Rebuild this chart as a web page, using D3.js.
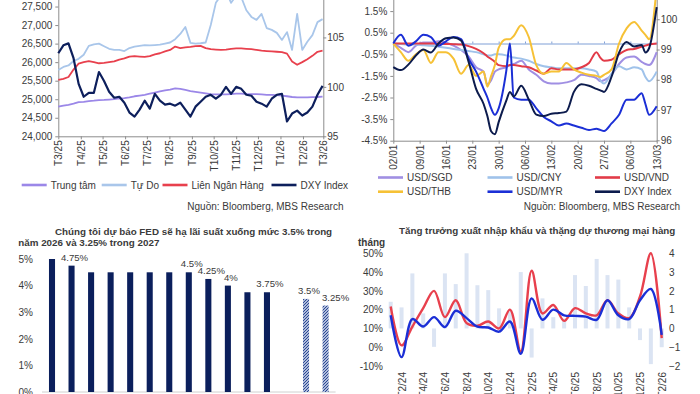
<!DOCTYPE html>
<html>
<head>
<meta charset="utf-8">
<script src="https://cdn.jsdelivr.net/npm/d3@7"></script>
<style>
  body { margin: 0; background: #fff; }
  svg { display: block; font-family: "Liberation Sans", Arial, sans-serif; }
</style>
</head>
<body>
<svg id="chart" width="700" height="394"></svg>
<script>
// ---------------- Data ----------------
// Chart 1: USD/VND rates (weekly, T3/25 -> T3/26) and DXY
const fxStart = new Date(2025, 2, 1);
const trungTam = [
  24800, 24830, 24850, 24880, 24920, 24930, 24950, 24960, 24975, 24980,
  24990, 25000, 25020, 25030, 25050, 25080, 25100, 25120, 25150, 25180,
  25210, 25240, 25260, 25290, 25280, 25250, 25220, 25200, 25180, 25160,
  25140, 25130, 25130, 25130, 25140, 25150, 25150, 25140, 25140, 25140,
  25130, 25120, 25120, 25110, 25100, 25080, 25060, 25050, 25050, 25050,
  25055, 25060, 25070
];
const tuDo = [
  25790, 25870, 25910, 26030, 26090, 26200, 26440, 26480, 26500, 26430,
  26360, 26330, 26330, 26300, 26380, 26420, 26440, 26460, 26450, 26460,
  26470, 26500, 26530, 26620, 26760, 26950, 26520, 26500, 26510, 26530,
  27000, 27600, 27800, 27900, 27600, 27800, 27750, 27400, 27220, 27140,
  27300, 26920, 26870, 26790, 26600, 26810, 26330, 27300, 26330, 26550,
  26730, 27080, 27160
];
const lienNganHang = [
  25520, 25550, 25600, 25800, 25960, 26000, 26030, 26000, 25970, 25980,
  26000, 26020, 26070, 26100, 26150, 26160, 26150, 26140, 26160, 26210,
  26240, 26290, 26330, 26420, 26380, 26400, 26410, 26430, 26440, 26380,
  26350, 26340, 26330, 26340, 26360, 26370, 26370, 26360, 26350, 26330,
  26310, 26300, 26290, 26280, 26270, 26230, 26020, 25930, 26000, 26080,
  26170, 26280, 26310
];
const dxyYear = [
  103.4, 104.2, 104.4, 102.9, 100.3, 99.0, 99.4, 99.4, 101.5, 100.6,
  99.5, 98.9, 99.0, 98.4, 97.4, 97.0, 97.7, 98.6, 97.8, 99.3,
  98.6, 98.2, 98.3, 98.1, 98.4, 97.7, 97.0, 98.0, 98.5, 99.0,
  99.2, 98.8, 99.2, 100.0, 99.3, 100.0, 99.8, 99.2, 99.1, 98.5,
  98.3, 98.0, 98.8, 99.2, 99.3, 96.5, 97.3, 97.6, 97.1, 97.4,
  98.0, 99.2, 100.1
];

// Chart 2: YTD change vs USD (%) and DXY, days counted from 02/01/2026
const ytdStart = new Date(2026, 0, 2);
const ytdDays = [0, 2, 4, 6, 8, 10, 12, 14, 16, 18, 20, 22, 24, 25, 26, 27, 28, 30, 31, 32,
  34, 36, 38, 40, 42, 44, 46, 48, 50, 52, 54, 55, 56, 58, 60, 62, 64, 66, 67, 68, 70];
const usdSgd = [
  0, -0.2, -0.4, -0.1, 0.05, 0.05, 0.1, 0.05, -0.1, -0.3,
  -0.6, -1.1, -1.3, -1.9, -1.7, -1.3, -1.2, -1.1, -1.0, -0.95,
  -0.8, -1.2, -1.45, -1.75, -1.85, -1.85, -1.8, -1.7, -1.45, -1.5,
  -1.6, -1.75, -1.7, -1.45, -0.95, -0.65, -0.6, -0.85, -0.95, -1.0,
  -0.4
];
const usdCny = [
  0, -0.02, -0.05, -0.05, -0.08, -0.1, -0.15, -0.2, -0.25, -0.3,
  -0.35, -0.4, -0.5, -0.55, -0.55, -0.5, -0.5, -0.55, -0.6, -0.65,
  -0.7, -0.8, -0.95, -1.05, -1.1, -1.15, -1.15, -1.15, -1.15, -1.2,
  -1.3, -1.7, -1.85, -1.4, -1.05, -1.2, -1.1, -1.2, -1.55, -1.75,
  -1.3
];
const usdVnd = [
  0, 0, 0, 0, 0, 0, 0, -0.02, -0.03, -0.05,
  -0.12, -0.25, -0.45, -0.6, -0.72, -0.85, -1.0, -1.05, -1.0, -1.0,
  -1.05, -1.1, -1.25, -1.4, -1.15, -1.2, -1.2, -1.2, -1.1, -0.9,
  -0.4, -0.65, -0.8, -0.75, -0.5, -0.3, -0.25, -0.15, -0.1, -0.05,
  0
];
const usdThb = [
  0, -0.4, -0.8, -0.5, -0.3, -0.9, -0.4, -0.4, -0.7, -1.4,
  -1.0, -1.5, -1.3, -2.0, -1.5, -1.0, -0.2, 0.2, 0.2, 0.35,
  0.85, 0.3, -1.0, -1.4, -1.3, -1.3, -0.9, -1.2, -1.35, -1.45,
  -1.5, -1.55, -1.45, -1.2, 0.0, 0.7, 1.0, 0.6, 0.4, 0.2,
  2.6
];
const usdMyr = [
  0, 0.4, -0.1, 0.1, 0.4, 0.3, -0.1, 0.1, 0.3, 0.2,
  -0.7, -1.3, -2.1, -2.5, -3.0, -3.3, -3.0, -1.3, 0.0, -2.5,
  -2.6, -2.6, -3.0, -3.4, -3.6, -3.8, -3.7, -3.8, -3.9, -4.0,
  -3.95, -4.0, -4.05, -3.7, -3.3, -2.6, -2.6, -2.3, -2.8, -3.3,
  -2.9
];
const dxyYtd = [
  98.42, 98.32, 98.5, 98.8, 99.0, 98.9, 99.2, 99.37, 99.4, 99.3,
  98.6, 97.7, 97.2, 96.8, 96.3, 96.2, 96.6, 97.3, 97.6, 97.45,
  97.8, 97.35, 96.85, 96.8, 96.88, 96.9, 96.95, 97.6, 97.85, 97.8,
  97.7, 97.65, 97.6, 98.1, 98.9, 99.25, 99.1, 99.15, 98.9, 99.05,
  100.4
];

// Chart 3: FED upper bound path and forecast
const fedMeetings = ['T9/24', 'T11/24', 'T12/24', 'T1/25', 'T3/25', 'T5/25', 'T6/25', 'T7/25',
  'T9/25', 'T10/25', 'T12/25', 'T1/26', '', '2026F', '2027F'];
const fedRates = [5, 4.75, 4.5, 4.5, 4.5, 4.5, 4.5, 4.5, 4.25, 4, 3.75, 3.75, null, 3.5, 3.25];
const fedLabels = ['', '4.75%', '', '', '', '', '', '4.5%', '4.25%', '4%', '', '3.75%', '', '3.5%', '3.25%'];

// Chart 4: export / import growth (% yoy) and trade balance (bn USD)
const tradeMonths = ['T1/24', 'T2/24', 'T3/24', 'T4/24', 'T5/24', 'T6/24', 'T7/24', 'T8/24', 'T9/24',
  'T10/24', 'T11/24', 'T12/24', 'T1/25', 'T2/25', 'T3/25', 'T4/25', 'T5/25', 'T6/25', 'T7/25',
  'T8/25', 'T9/25', 'T10/25', 'T11/25', 'T12/25', 'T1/26', 'T2/26'];
const exportGrowth = [17, -5.3, 15, 11, 16, 10.7, 19.4, 15.5, 11, 10.5, 8.3, 13.7, -3.5,
  26, 14.6, 20, 17, 16.7, 16.3, 14.6, 25, 17, 15, 25, 31, 6.6];
const importGrowth = [21.7, 1, 11, 20.8, 30, 16, 25, 12.8, 11.4, 13.7, 10, 20, -2.3,
  40.7, 18, 22.5, 14, 20.8, 18, 17, 25, 18, 15.5, 27, 50, 4.8];
const tradeBalance = [1.42, 1.12, 2.93, 0.8, -0.98, 2.93, 2.36, 4.0, 2.3, 2.04, 1.07, 0.95, 3.0,
  -1.55, 1.6, 0.6, 0.53, 2.84, 2.26, 3.7, 2.84, 2.6, 1.12, -0.62, -1.9, -1.0];

// ---------------- Helpers ----------------
const svg = d3.select('#chart');
const TEXT = '#3a3a3a';
const AXIS = '#8c8c8c';
const FONT = '"Liberation Sans", Arial, sans-serif';

function styleAxis(g) {
  g.attr('font-family', FONT).attr('font-size', 10);
  g.selectAll('path, line').attr('stroke', AXIS);
  g.selectAll('text').attr('fill', TEXT);
}

function rotateLabels(g, gap) {
  g.selectAll('text')
    .attr('transform', 'rotate(-90)')
    .attr('x', -gap)
    .attr('y', 0)
    .attr('dy', '0.35em')
    .attr('text-anchor', 'end');
}

function legendItem(x, y, color, label) {
  svg.append('line')
    .attr('x1', x).attr('x2', x + 25)
    .attr('y1', y).attr('y2', y)
    .attr('stroke', color)
    .attr('stroke-width', 2.6);
  svg.append('text')
    .attr('x', x + 29).attr('y', y)
    .attr('dy', '0.35em')
    .attr('font-size', 10)
    .attr('fill', TEXT)
    .text(label);
}

// ---------------- Chart 1 ----------------
const c1 = { left: 58.3, right: 323.3, top: -12, bottom: 136.3 };
const fxDates = trungTam.map((d, i) => d3.timeDay.offset(fxStart, i * 7));
const x1 = d3.scaleTime()
  .domain([fxStart, new Date(2026, 2, 1)])
  .range([c1.left, c1.right]);
const y1 = d3.scaleLinear().domain([24000, 28000]).range([c1.bottom, c1.top]);
const y1r = d3.scaleLinear().domain([95, 110]).range([c1.bottom, c1.top]);

svg.append('g')
  .attr('transform', `translate(${c1.left},0)`)
  .call(d3.axisLeft(y1).tickValues(d3.range(24000, 28000, 500)).tickFormat(d3.format(',')).tickSize(3).tickPadding(3).tickSizeOuter(0))
  .call(styleAxis);

svg.append('g')
  .attr('transform', `translate(${c1.right},0)`)
  .call(d3.axisRight(y1r).tickValues([95, 100, 105]).tickFormat(d3.format('d')).tickSize(3).tickPadding(1).tickSizeOuter(0))
  .call(styleAxis);

svg.append('g')
  .attr('transform', `translate(0,${c1.bottom})`)
  .call(d3.axisBottom(x1)
    .tickValues(d3.timeMonth.range(fxStart, new Date(2026, 2, 2)))
    .tickFormat(d => 'T' + (d.getMonth() + 1) + '/' + String(d.getFullYear()).slice(2))
    .tickSize(3).tickSizeOuter(0))
  .call(styleAxis)
  .call(g => rotateLabels(g, 4));

const fxSeries = [
  { values: trungTam, color: '#9b87e8', scale: y1, width: 1.8 },
  { values: tuDo, color: '#a9c6ea', scale: y1, width: 1.8 },
  { values: lienNganHang, color: '#e8404d', scale: y1, width: 1.8 },
  { values: dxyYear, color: '#0d1f5c', scale: y1r, width: 2.2 }
];
fxSeries.forEach(s => {
  svg.append('path')
    .datum(s.values)
    .attr('fill', 'none')
    .attr('stroke', s.color)
    .attr('stroke-width', s.width)
    .attr('stroke-linejoin', 'round')
    .attr('d', d3.line().x((d, i) => x1(fxDates[i])).y(d => s.scale(d)));
});

legendItem(21.7, 185, '#9b87e8', 'Trung tâm');
legendItem(101.7, 185, '#a9c6ea', 'Tự Do');
legendItem(162.5, 185, '#e8404d', 'Liên Ngân Hàng');
legendItem(271.5, 185, '#0d1f5c', 'DXY Index');

// ---------------- Chart 2 ----------------
const c2 = { left: 393.3, right: 656.7, top: -11, bottom: 140.7 };
const ytdDates = ytdDays.map(d => d3.timeDay.offset(ytdStart, d));
const x2 = d3.scaleTime()
  .domain([ytdStart, new Date(2026, 2, 13)])
  .range([c2.left, c2.right]);
const y2 = d3.scaleLinear().domain([-4.5, 2.5]).range([c2.bottom, -10.5]);
const y2r = d3.scaleLinear().domain([96, 101]).range([c2.bottom - 0.4, -11]);
const weekTicks = d3.range(0, 71, 7).map(d => d3.timeDay.offset(ytdStart, d));

svg.append('g')
  .attr('transform', `translate(${c2.left},0)`)
  .call(d3.axisLeft(y2).tickValues([-4.5, -3.5, -2.5, -1.5, -0.5, 0.5, 1.5]).tickFormat(d => d.toFixed(1) + '%').tickSize(3).tickPadding(3).tickSizeOuter(0))
  .call(styleAxis);

svg.append('g')
  .attr('transform', `translate(${c2.right},0)`)
  .call(d3.axisRight(y2r).tickValues([96, 97, 98, 99, 100]).tickFormat(d3.format('d')).tickSize(3).tickPadding(1).tickSizeOuter(0))
  .call(styleAxis);

svg.append('g')
  .attr('transform', `translate(0,${c2.bottom})`)
  .call(d3.axisBottom(x2).tickValues(weekTicks).tickFormat(d3.timeFormat('%d/%m')).tickSize(3).tickSizeOuter(0))
  .call(styleAxis)
  .call(g => rotateLabels(g, 4));

// zero line with small ticks
svg.append('g')
  .attr('transform', `translate(0,${y2(0)})`)
  .call(d3.axisTop(x2).tickValues(weekTicks).tickFormat('').tickSize(2).tickSizeOuter(0))
  .call(g => g.selectAll('path, line').attr('stroke', '#7f9fd6'));

const ytdSeries = [
  { values: usdSgd, color: '#a08fe3', scale: y2, label: 'USD/SGD' },
  { values: usdCny, color: '#9fc2ea', scale: y2, label: 'USD/CNY' },
  { values: usdVnd, color: '#e23b48', scale: y2, label: 'USD/VND' },
  { values: usdThb, color: '#f6c136', scale: y2, label: 'USD/THB' },
  { values: usdMyr, color: '#1b2fd6', scale: y2, label: 'USD/MYR' },
  { values: dxyYtd, color: '#0c1b4d', scale: y2r, label: 'DXY Index' }
];
ytdSeries.forEach(s => {
  svg.append('path')
    .datum(s.values)
    .attr('fill', 'none')
    .attr('stroke', s.color)
    .attr('stroke-width', 2)
    .attr('stroke-linejoin', 'round')
    .attr('d', d3.line().curve(d3.curveMonotoneX).x((d, i) => x2(ytdDates[i])).y(d => s.scale(d)));
});

const legend2X = [378, 487.5, 595];
ytdSeries.forEach((s, i) => {
  legendItem(legend2X[i % 3], i < 3 ? 177.5 : 191.7, s.color, s.label);
});

// Sources
[343.5, 680].forEach(x => {
  svg.append('text')
    .attr('x', x).attr('y', 206)
    .attr('dy', '0.35em')
    .attr('text-anchor', 'end')
    .attr('font-size', 10)
    .attr('fill', TEXT)
    .text('Nguồn: Bloomberg, MBS Research');
});

// ---------------- Chart 3 ----------------
svg.append('text')
  .attr('x', 55).attr('y', 231.7).attr('dy', '0.35em')
  .attr('font-size', 9.8).attr('font-weight', 'bold').attr('fill', TEXT)
  .text('Chúng tôi dự báo FED sẽ hạ lãi suất xuống mức 3.5% trong');
svg.append('text')
  .attr('x', 18.3).attr('y', 242.7).attr('dy', '0.35em')
  .attr('font-size', 9.8).attr('font-weight', 'bold').attr('fill', TEXT)
  .text('năm 2026 và 3.25% trong 2027');

const x3 = d3.scaleBand()
  .domain(fedMeetings)
  .range([42, 335.6])
  .paddingInner(0.69)
  .paddingOuter(0.357);
const y3 = d3.scaleLinear().domain([0, 5]).range([392, 259]);

const defs = svg.append('defs');
const hatch = defs.append('pattern')
  .attr('id', 'hatch')
  .attr('patternUnits', 'userSpaceOnUse')
  .attr('width', 3).attr('height', 3);
hatch.append('rect').attr('width', 3).attr('height', 3).attr('fill', '#e8eef9');
hatch.append('path')
  .attr('d', 'M-1,1 l2,-2 M0,3 l3,-3 M2,4 l2,-2')
  .attr('stroke', '#213f8f')
  .attr('stroke-width', 1.1);

svg.append('g')
  .attr('transform', 'translate(37,0)')
  .call(d3.axisLeft(y3).tickValues([0, 1, 2, 3, 4, 5]).tickFormat(d => d + '%').tickSize(0).tickPadding(4))
  .call(styleAxis)
  .call(g => g.select('.domain').remove());

svg.append('line')
  .attr('x1', 42).attr('x2', 335.6)
  .attr('y1', y3(0)).attr('y2', y3(0))
  .attr('stroke', '#d0d0d0');

const fedData = fedMeetings.map((m, i) => ({ m, v: fedRates[i], label: fedLabels[i] }))
  .filter(d => d.v !== null);

svg.selectAll('.fedbar')
  .data(fedData)
  .enter()
  .append('rect')
  .attr('class', 'fedbar')
  .attr('x', d => x3(d.m))
  .attr('y', d => y3(d.v))
  .attr('width', x3.bandwidth())
  .attr('height', d => y3(0) - y3(d.v))
  .attr('fill', d => d.m.endsWith('F') ? 'url(#hatch)' : '#0b1f5c');

const labelled = fedData.filter(d => d.label);
svg.selectAll('.fedlabel')
  .data(labelled)
  .enter()
  .append('text')
  .attr('class', 'fedlabel')
  // last label is nudged right so it clears the 3.5% label
  .attr('x', (d, i) => x3(d.m) + x3.bandwidth() / 2 + (i === labelled.length - 1 ? 10 : 3))
  .attr('y', d => y3(d.v) - 5)
  .attr('text-anchor', 'middle')
  .attr('font-size', 9.6)
  .attr('fill', TEXT)
  .text(d => d.label);

// ---------------- Chart 4 ----------------
svg.append('text')
  .attr('x', 399).attr('y', 230.7).attr('dy', '0.35em')
  .attr('font-size', 9.8).attr('font-weight', 'bold').attr('fill', TEXT)
  .text('Tăng trưởng xuất nhập khẩu và thặng dự thương mại hàng');
svg.append('text')
  .attr('x', 358).attr('y', 242.7).attr('dy', '0.35em')
  .attr('font-size', 10).attr('font-weight', 'bold').attr('fill', TEXT)
  .text('tháng');

const x4 = d3.scalePoint().domain(tradeMonths).range([390.7, 661.7]);
const y4 = d3.scaleLinear().domain([-10, 50]).range([366, 253.3]);
const y4r = d3.scaleLinear().domain([-2, 4]).range([366, 253.3]);

svg.append('g')
  .attr('transform', 'translate(387,0)')
  .call(d3.axisLeft(y4).tickValues(d3.range(-10, 51, 10)).tickFormat(d => d + '%').tickSize(0).tickPadding(4))
  .call(styleAxis)
  .call(g => g.select('.domain').remove());

svg.append('g')
  .attr('transform', 'translate(665,0)')
  .call(d3.axisRight(y4r).tickValues(d3.range(-2, 5, 1)).tickFormat(d3.format('d')).tickSize(0).tickPadding(4))
  .call(styleAxis)
  .call(g => g.select('.domain').remove());

svg.append('g')
  .attr('transform', 'translate(0,368)')
  .call(d3.axisBottom(x4).tickValues(tradeMonths.filter((m, i) => i % 2 === 1)).tickSize(0))
  .call(styleAxis)
  .call(g => g.select('.domain').remove())
  .call(g => rotateLabels(g, 4));

svg.selectAll('.tradebar')
  .data(tradeBalance)
  .enter()
  .append('rect')
  .attr('class', 'tradebar')
  .attr('x', (d, i) => x4(tradeMonths[i]) - 2)
  .attr('y', d => Math.min(y4r(d), y4r(0)))
  .attr('width', 4)
  .attr('height', d => Math.abs(y4r(d) - y4r(0)))
  .attr('fill', '#dbe4f3');

[
  { values: importGrowth, color: '#e8404d' },
  { values: exportGrowth, color: '#1b2fd6' }
].forEach(s => {
  svg.append('path')
    .datum(s.values)
    .attr('fill', 'none')
    .attr('stroke', s.color)
    .attr('stroke-width', 2.4)
    .attr('d', d3.line().curve(d3.curveCatmullRom).x((d, i) => x4(tradeMonths[i])).y(d => y4(d)));
});
</script>
</body>
</html>
